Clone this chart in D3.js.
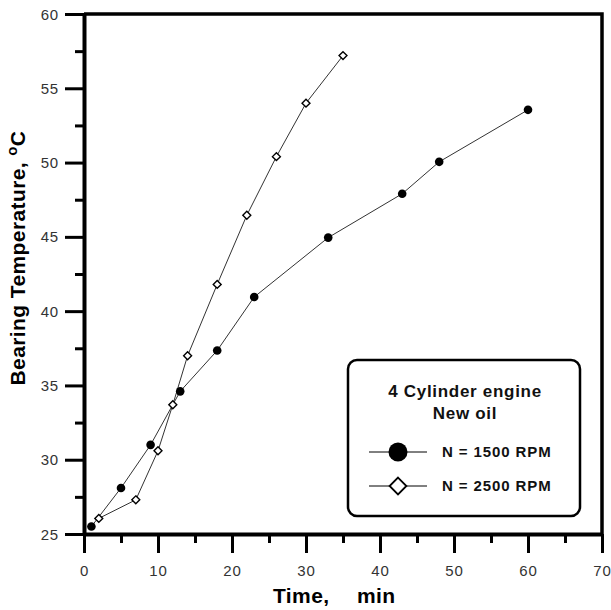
<!DOCTYPE html>
<html lang="en">
    <head>
        <meta charset="utf-8">
        <title>Bearing temperature vs time</title>
        <script type="text/javascript" src="https://cdn.jsdelivr.net/npm/d3@7"></script>
        <style type="text/css">
            body { margin: 0; background: #fff; }
            text { font-family: Arial, "Liberation Sans", sans-serif; }
        </style>
    </head>

    <body>
        <script type="text/javascript">
            // Data
            var time1500 = [1, 5, 9, 13, 18, 23, 33, 43, 48, 60];
            var temp1500 = [25.5, 28.1, 31.0, 34.6, 37.35, 40.95, 44.95, 47.9, 50.05, 53.55];
            var time2500 = [2, 7, 10, 12, 14, 18, 22, 26, 30, 35];
            var temp2500 = [26.05, 27.3, 30.6, 33.7, 37.0, 41.8, 46.45, 50.4, 54.0, 57.2];
            var xTicks = [0, 10, 20, 30, 40, 50, 60, 70];
            var yTicks = [25, 30, 35, 40, 45, 50, 55, 60];
            var legendTitle = ["4 Cylinder engine", "New oil"];
            var seriesNames = ["N = 1500 RPM", "N = 2500 RPM"];

            var w = 611;
            var h = 610;
            var pLeft = 84, pRight = 602, pTop = 14, pBottom = 534;

            var svg = d3.select("body")
                    .append("svg")
                    .attr("width", w)
                    .attr("height", h);

            var xScale = d3.scaleLinear().domain([0, 70]).range([pLeft, pRight]);
            var yScale = d3.scaleLinear().domain([25, 60]).range([pBottom, pTop]);

            // frame (top and right)
            svg.append("path")
                .attr("d", "M" + pLeft + "," + pTop + "H" + pRight + "V" + pBottom)
                .attr("fill", "none")
                .attr("stroke", "#000")
                .attr("stroke-width", 3.5);

            // x axis: major ticks every 10, minor every 5, ticks pointing down
            var xAxis = svg.append("g")
                .attr("transform", "translate(0," + pBottom + ")")
                .call(d3.axisBottom(xScale).tickValues(d3.range(0, 71, 5))
                    .tickSize(0).tickSizeOuter(0).tickFormat(""));
            xAxis.select(".domain").attr("stroke", "#000").attr("stroke-width", 4);
            xAxis.selectAll(".tick line")
                .attr("y2", function(d) { return d % 10 === 0 ? 19 : 9; })
                .attr("stroke", "#000")
                .attr("stroke-width", 3);

            svg.selectAll(".xlab")
                .data(xTicks)
                .enter()
                .append("text")
                .attr("class", "xlab")
                .attr("x", function(d) { return xScale(d) + 0.5; })
                .attr("y", 576)
                .attr("text-anchor", "middle")
                .attr("font-size", "15px")
                .attr("letter-spacing", "0.8px")
                .attr("fill", "#333")
                .text(function(d) { return d; });

            // y axis
            var yAxis = svg.append("g")
                .attr("transform", "translate(" + pLeft + ",0)")
                .call(d3.axisLeft(yScale).tickValues(d3.range(25, 60.1, 2.5))
                    .tickSize(0).tickSizeOuter(0).tickFormat(""));
            yAxis.select(".domain").attr("stroke", "#000").attr("stroke-width", 4);
            yAxis.selectAll(".tick line")
                .attr("x2", function(d) { return d % 5 === 0 ? -19 : -9; })
                .attr("stroke", "#000")
                .attr("stroke-width", 3);

            svg.selectAll(".ylab")
                .data(yTicks)
                .enter()
                .append("text")
                .attr("class", "ylab")
                .attr("x", 59)
                .attr("y", function(d) { return yScale(d) + 5.5; })
                .attr("text-anchor", "end")
                .attr("font-size", "15px")
                .attr("letter-spacing", "0.8px")
                .attr("fill", "#333")
                .text(function(d) { return d; });

            // axis titles
            svg.append("text")
                .attr("x", 273)
                .attr("y", 603)
                .attr("font-size", "21px")
                .attr("font-weight", "bold")
                .attr("letter-spacing", "0.4px")
                .text("Time,");
            svg.append("text")
                .attr("x", 357)
                .attr("y", 603)
                .attr("font-size", "21px")
                .attr("font-weight", "bold")
                .attr("letter-spacing", "0.4px")
                .text("min");

            var yTitle = svg.append("text")
                .attr("transform", "translate(25,258) rotate(-90)")
                .attr("text-anchor", "middle")
                .attr("font-size", "21px")
                .attr("font-weight", "bold")
                .attr("letter-spacing", "0.4px");
            yTitle.append("tspan").text("Bearing Temperature, ");
            yTitle.append("tspan").attr("font-size", "15px").attr("dy", -8).text("o");
            yTitle.append("tspan").attr("dy", 8).text("C");

            // lines
            var line = d3.line()
                .x(function(d) { return xScale(d[0]); })
                .y(function(d) { return yScale(d[1]); });

            var data1 = d3.zip(time1500, temp1500);
            var data2 = d3.zip(time2500, temp2500);

            [data1, data2].forEach(function(data) {
                svg.append("path")
                    .datum(data)
                    .attr("d", line)
                    .attr("fill", "none")
                    .attr("stroke", "#333")
                    .attr("stroke-width", 1);
            });

            var diamond = d3.symbol().type(d3.symbolDiamond2);

            svg.selectAll(".dot")
                .data(data1)
                .enter()
                .append("circle")
                .attr("class", "dot")
                .attr("cx", function(d) { return xScale(d[0]); })
                .attr("cy", function(d) { return yScale(d[1]); })
                .attr("r", 4.3)
                .attr("fill", "#000");

            svg.selectAll(".dia")
                .data(data2)
                .enter()
                .append("path")
                .attr("class", "dia")
                .attr("transform", function(d) {
                    return "translate(" + xScale(d[0]) + "," + yScale(d[1]) + ")";
                })
                .attr("d", diamond.size(40))
                .attr("fill", "#fff")
                .attr("stroke", "#000")
                .attr("stroke-width", 1.4);

            // legend box
            var lg = svg.append("g");
            lg.append("rect")
                .attr("x", 348)
                .attr("y", 360)
                .attr("width", 232)
                .attr("height", 156)
                .attr("rx", 9)
                .attr("fill", "#fff")
                .attr("stroke", "#000")
                .attr("stroke-width", 2.5);

            lg.selectAll(".lt")
                .data(legendTitle)
                .enter()
                .append("text")
                .attr("class", "lt")
                .attr("x", 465)
                .attr("y", function(d, i) { return 397 + i * 22; })
                .attr("text-anchor", "middle")
                .attr("font-size", "17px")
                .attr("font-weight", "bold")
                .attr("letter-spacing", "0.7px")
                .attr("fill", "#111")
                .text(function(d) { return d; });

            var rowY = [452, 486];
            rowY.forEach(function(y, i) {
                lg.append("line")
                    .attr("x1", 369).attr("x2", 427)
                    .attr("y1", y).attr("y2", y)
                    .attr("stroke", "#000")
                    .attr("stroke-width", 1);
                if (i === 0) {
                    lg.append("circle")
                        .attr("cx", 398).attr("cy", y).attr("r", 9.5)
                        .attr("fill", "#000");
                } else {
                    lg.append("path")
                        .attr("transform", "translate(398," + y + ")")
                        .attr("d", d3.symbol().type(d3.symbolDiamond2).size(180))
                        .attr("fill", "#fff")
                        .attr("stroke", "#000")
                        .attr("stroke-width", 1.8);
                }
                lg.append("text")
                    .attr("x", 442)
                    .attr("y", y + 5)
                    .attr("font-size", "15px")
                    .attr("font-weight", "bold")
                    .attr("letter-spacing", "0.9px")
                    .attr("fill", "#111")
                    .text(seriesNames[i]);
            });
        </script>
    </body>
</html>
